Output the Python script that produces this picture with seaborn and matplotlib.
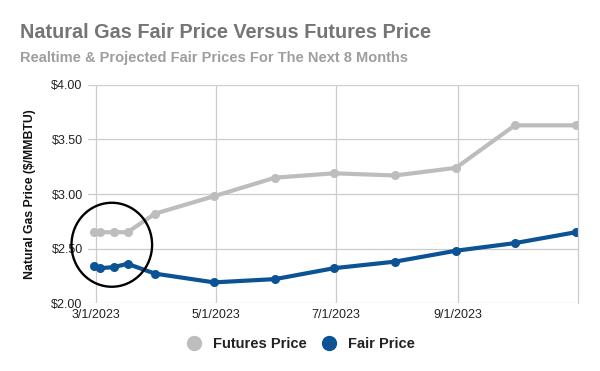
import pandas as pd
import seaborn as sns
import matplotlib.pyplot as plt
import matplotlib.dates as mdates
from matplotlib.patches import Ellipse
from datetime import datetime

# data
dates = ["2023-02-28", "2023-03-03", "2023-03-10", "2023-03-17", "2023-03-31", "2023-04-30",
         "2023-05-31", "2023-06-30", "2023-07-31", "2023-08-31", "2023-09-30", "2023-10-31"]
futures_price = [2.65, 2.65, 2.65, 2.65, 2.82, 2.98, 3.15, 3.19, 3.17, 3.24, 3.63, 3.63]
fair_price = [2.34, 2.32, 2.33, 2.36, 2.27, 2.19, 2.22, 2.32, 2.38, 2.48, 2.55, 2.65]
series_names = ["Futures Price", "Fair Price"]
colors = ["#bdbdbd", "#0b5394"]
tick_dates = ["2023-03-01", "2023-05-01", "2023-07-01", "2023-09-01"]

df = pd.DataFrame({"date": pd.to_datetime(dates), series_names[0]: futures_price, series_names[1]: fair_price})
df = df.melt(id_vars="date", var_name="series", value_name="price")

sns.set_style("whitegrid")
plt.rcParams['font.family'] = ['Liberation Sans', 'DejaVu Sans']

fig = plt.figure(figsize=(6, 3.71), dpi=100)
ax = fig.add_axes([0.147, 0.183, 0.816, 0.588])

sns.lineplot(data=df, x="date", y="price", hue="series", palette=colors, marker="o",
             markersize=6.5, markeredgewidth=0, linewidth=3, ax=ax, legend=False)

ax.set_xlim(datetime(2023, 2, 25), datetime(2023, 11, 1))
ax.set_ylim(2.0, 4.0)
ax.set_yticks([2.0, 2.5, 3.0, 3.5, 4.0])
ax.yaxis.set_major_formatter(lambda v, p: f"${v:.2f}")
ax.set_xticks(pd.to_datetime(tick_dates))
ax.xaxis.set_major_formatter(lambda v, p: mdates.num2date(v).strftime("%-m/%-d/%Y"))
ax.grid(color="#cccccc", linewidth=0.9)
ax.tick_params(axis="both", labelsize=9, colors="#222222", length=0, pad=4)
for s in ["left", "top", "bottom"]:
    ax.spines[s].set_visible(False)
ax.spines["right"].set_color("#cccccc")
ax.spines["right"].set_linewidth(0.9)

ax.set_xlabel("")
ax.set_ylabel("Natural Gas Price ($/MMBTU)", fontsize=8.8, fontweight="bold", color="#111111", labelpad=11)

# hand drawn circle around the first weeks
ax.add_patch(Ellipse((mdates.date2num(datetime(2023, 3, 9)), 2.535), 41, 0.77,
                     fill=False, edgecolor="black", linewidth=1.7, clip_on=False, zorder=5))

fig.text(0.033, 0.913, "Natural Gas Fair Price Versus Futures Price", fontsize=14.3,
         fontweight="bold", color="#757575", va="center")
fig.text(0.033, 0.843, "Realtime & Projected Fair Prices For The Next 8 Months", fontsize=10.5,
         fontweight="bold", color="#9e9e9e", va="center")

handles = [plt.Line2D([], [], marker="o", linestyle="", markersize=10, color=c) for c in colors]
fig.legend(handles, series_names, loc="center", bbox_to_anchor=(0.495, 0.072), ncol=2, frameon=False,
           prop={"weight": "bold", "size": 10.5}, handletextpad=0.3, columnspacing=0.5, labelcolor="#222222")

fig.savefig("out.png", dpi=100)
